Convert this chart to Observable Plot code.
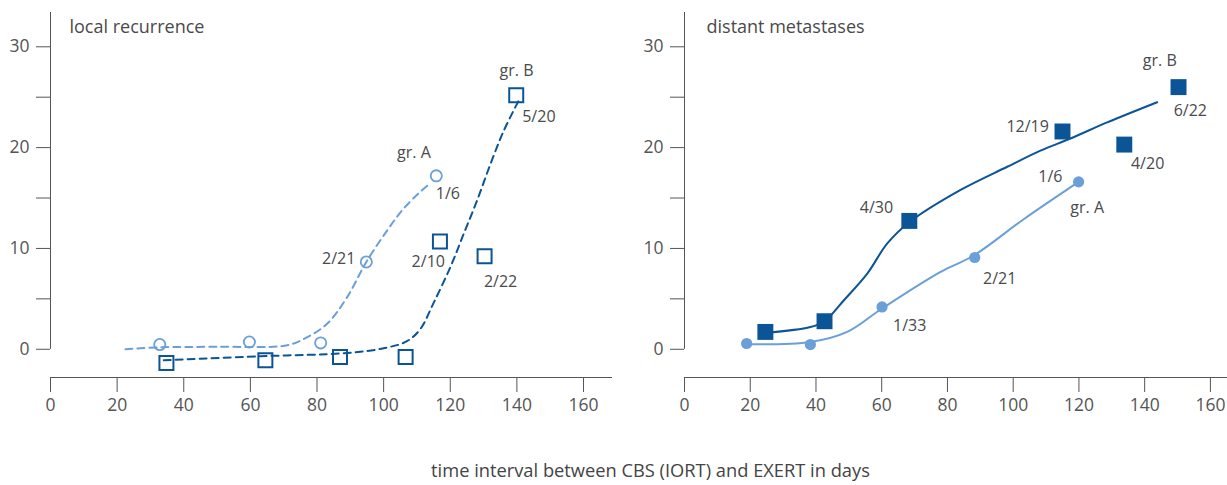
<!DOCTYPE html>
<html><head><meta charset="utf-8">
<script src="https://cdn.jsdelivr.net/npm/d3@7"></script>
<script src="https://cdn.jsdelivr.net/npm/@observablehq/plot@0.6"></script>
<style>
body{margin:0;background:#fff;font-family:"Open Sans",sans-serif;}
#wrap{position:relative;width:1227px;height:485px;overflow:hidden;}
#left{position:absolute;left:0;top:0;}
#right{position:absolute;left:615px;top:0;}
#caption{position:absolute;left:0;width:1301px;top:458px;text-align:center;font-size:18.3px;color:#444;line-height:24px;}
</style></head><body>
<div id="wrap"><div id="left"></div><div id="right"></div><div id="caption">time interval between CBS (IORT) and EXERT in days</div></div>
<script>
// ---- ticks ----
const xTicks = [0, 20, 40, 60, 80, 100, 120, 140, 160];
const yTicks = [0, 10, 20, 30];
const yMinorTicks = [5, 15, 25];

// ---- local recurrence ----
const lrAx = [32.8, 59.7, 81.1, 94.8, 115.8];
const lrAy = [0.47, 0.72, 0.63, 8.66, 17.2];
const lrBx = [34.8, 64.5, 86.9, 106.6, 116.9, 130.3, 139.8];
const lrBy = [-1.36, -1.09, -0.76, -0.76, 10.7, 9.23, 25.2];
const lrFitAx = [22.5, 33, 50, 71.1, 77.1, 83.1, 89.1, 94.8, 101.1, 105.6, 110.6, 114.1];
const lrFitAy = [0, 0.2, 0.25, 0.4, 1.2, 2.55, 5.2, 8.66, 11.8, 13.8, 15.5, 16.5];
const lrFitBx = [34, 63, 89.1, 100, 107, 111, 115, 120.1, 124.1, 128.1, 132.1, 136.1, 140.6];
const lrFitBy = [-1.09, -0.69, -0.37, 0.1, 0.8, 2.0, 4.6, 8.2, 11.5, 14.8, 18.4, 21.7, 24.7];
const lrLabelText = ["gr. B", "5/20", "gr. A", "1/6", "2/21", "2/10", "2/22"];
const lrLabelX = [139.9, 146.6, 109.1, 119.3, 86.5, 113.4, 135.1];
const lrLabelY = [27.6, 23.0, 19.5, 15.4, 8.97, 8.66, 6.68];

// ---- distant metastases ----
const dmAx = [18.9, 38.3, 60.1, 88.3, 119.9];
const dmAy = [0.57, 0.47, 4.2, 9.1, 16.6];
const dmBx = [24.6, 42.6, 68.4, 115.0, 133.8, 150.3];
const dmBy = [1.72, 2.78, 12.73, 21.6, 20.3, 26.0];
const dmFitAx = [18.9, 38.3, 49.5, 60.1, 77.9, 88.0, 103.2, 119.9];
const dmFitAy = [0.5, 0.72, 1.72, 4.04, 7.67, 9.3, 12.9, 16.6];
const dmFitBx = [24.6, 38.3, 42.6, 48.5, 55.6, 61.7, 68.4, 84.0, 98.2, 108.3, 117.4, 128.6, 143.8];
const dmFitBy = [1.62, 2.2, 2.78, 4.86, 7.5, 10.5, 12.6, 15.8, 18.1, 19.7, 20.9, 22.5, 24.5];
const dmLabelText = ["gr. B", "6/22", "12/19", "4/20", "1/6", "gr. A", "2/21", "4/30", "1/33"];
const dmLabelX = [144.6, 153.9, 104.4, 140.9, 111.3, 122.5, 95.9, 58.4, 68.5];
const dmLabelY = [28.6, 23.6, 22.1, 18.4, 17.1, 14.0, 7.0, 14.0, 2.3];

// ---- style ----
const light = "#6b9fd8";
const dark = "#0b5496";
const axisColor = "#555";
const textColor = "#4a4a4a";
const yMin = -2.8, yMax = 33.4;

const pts = (xs, ys) => xs.map((x, i) => ({x, y: ys[i]}));
const lbl = (ts, xs, ys) => ts.map((t, i) => ({t, x: xs[i], y: ys[i]}));

function panel(o) {
  const common = [
    Plot.ruleY([yMin], {stroke: axisColor, strokeWidth: 1}),
    Plot.ruleX([0], {y1: 0, y2: yMax, stroke: axisColor, strokeWidth: 1}),
    Plot.axisX({ticks: xTicks, tickSize: 15, tickPadding: 6, stroke: axisColor, fill: axisColor, fontSize: 17.5, label: null}),
    Plot.axisY({ticks: yTicks, tickSize: 14, tickPadding: 7, stroke: axisColor, fill: axisColor, fontSize: 17.5, label: null}),
    Plot.axisY({ticks: yMinorTicks, tickSize: 14, tickFormat: () => "", stroke: axisColor, label: null}),
    Plot.text([o.title], {frameAnchor: "top-left", dx: o.titleDx, dy: 8, textAnchor: "start", fontSize: 18, fill: textColor})
  ];
  return Plot.plot({
    width: o.width, height: 430,
    marginLeft: o.marginLeft, marginRight: o.marginRight, marginTop: 12, marginBottom: 53,
    style: {fontFamily: '"Open Sans", sans-serif', background: "white", overflow: "visible"},
    x: {domain: [0, o.xMax]},
    y: {domain: [yMin, yMax]},
    marks: [...common, ...o.marks,
      Plot.text(o.labels, {x: "x", y: "y", text: "t", fontSize: 16, fill: textColor})]
  });
}

const left = panel({
  width: 615, marginLeft: 50, marginRight: 3, xMax: 168.7,
  title: "local recurrence", titleDx: 19,
  labels: lbl(lrLabelText, lrLabelX, lrLabelY),
  marks: [
    Plot.line(pts(lrFitAx, lrFitAy), {x: "x", y: "y", stroke: light, strokeWidth: 2, strokeDasharray: "7,5", curve: "catmull-rom"}),
    Plot.line(pts(lrFitBx, lrFitBy), {x: "x", y: "y", stroke: dark, strokeWidth: 2, strokeDasharray: "7,5", curve: "catmull-rom"}),
    Plot.dot(pts(lrAx, lrAy), {x: "x", y: "y", r: 5.6, stroke: light, strokeWidth: 1.8, fill: "none"}),
    Plot.dot(pts(lrBx, lrBy), {x: "x", y: "y", symbol: "square", r: 7.9, stroke: dark, strokeWidth: 2, fill: "none"})
  ]
});

const right = panel({
  width: 612, marginLeft: 69, marginRight: 0, xMax: 165.2,
  title: "distant metastases", titleDx: 22,
  labels: lbl(dmLabelText, dmLabelX, dmLabelY),
  marks: [
    Plot.line(pts(dmFitAx, dmFitAy), {x: "x", y: "y", stroke: light, strokeWidth: 2, curve: "catmull-rom"}),
    Plot.line(pts(dmFitBx, dmFitBy), {x: "x", y: "y", stroke: dark, strokeWidth: 2, curve: "catmull-rom"}),
    Plot.dot(pts(dmAx, dmAy), {x: "x", y: "y", r: 5.6, fill: light, stroke: "none"}),
    Plot.dot(pts(dmBx, dmBy), {x: "x", y: "y", symbol: "square", r: 9, fill: dark, stroke: "none"})
  ]
});

document.getElementById("left").appendChild(left);
document.getElementById("right").appendChild(right);
</script></body></html>
